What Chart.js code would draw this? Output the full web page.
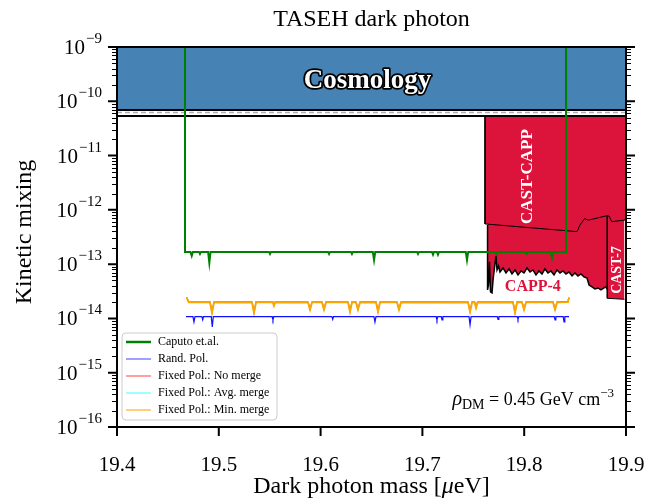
<!DOCTYPE html>
<html>
<head>
<meta charset="utf-8">
<script src="https://cdn.jsdelivr.net/npm/chart.js@4.4.1/dist/chart.umd.min.js"></script>
<style>
html, body { margin: 0; padding: 0; background: #fff; }
#grafico { display: block; }
</style>
</head>
<body>
<canvas id="grafico" width="648" height="498"></canvas>
<script>
const FONTE = "'Liberation Serif', 'DejaVu Serif', serif"
const CRIMSON = "#dc143c"

// eixos
const massMin = 19.4
const massMax = 19.9
const mixMin = 1e-16
const mixMax = 1e-9
const xTicks = [19.4, 19.5, 19.6, 19.7, 19.8, 19.9]
const yDecades = [-16, -15, -14, -13, -12, -11, -10, -9]

// faixas horizontais
const bandMass = [19.4, 19.9]
const cosmologyMix = [6.9e-11, 6.9e-11]
const gapLineMix = [6.2e-11, 6.2e-11]
const labLimitMix = [5.36e-11, 5.36e-11]
const labLimit = 5.36e-11

// Caputo et.al.
const caputoMass = [19.4668, 19.4668, 19.4722, 19.4734, 19.4746, 19.4805, 19.4815, 19.4825, 19.4895, 19.4907, 19.4919,
    19.5493, 19.5503, 19.5513, 19.6073, 19.6083, 19.6093, 19.6298, 19.6308, 19.6318, 19.6513, 19.6525, 19.6537,
    19.6947, 19.6957, 19.6967, 19.7094, 19.7104, 19.7114, 19.7143, 19.7153, 19.7163, 19.7426, 19.7438, 19.7450,
    19.7723, 19.7733, 19.7743, 19.8018, 19.8028, 19.8038, 19.8261, 19.8273, 19.8285, 19.8411, 19.8411]
const caputoMix = [1e-9, 1.68e-13, 1.68e-13, 1.42e-13, 1.68e-13, 1.68e-13, 1.54e-13, 1.68e-13, 1.68e-13, 1.05e-13, 1.68e-13,
    1.68e-13, 1.54e-13, 1.68e-13, 1.68e-13, 1.54e-13, 1.68e-13, 1.68e-13, 1.54e-13, 1.68e-13, 1.68e-13, 1.19e-13, 1.68e-13,
    1.68e-13, 1.54e-13, 1.68e-13, 1.68e-13, 1.50e-13, 1.68e-13, 1.68e-13, 1.50e-13, 1.68e-13, 1.68e-13, 1.19e-13, 1.68e-13,
    1.68e-13, 1.54e-13, 1.68e-13, 1.68e-13, 1.54e-13, 1.68e-13, 1.68e-13, 1.30e-13, 1.68e-13, 1.68e-13, 1e-9]

// Rand. Pol.
const randMass = [19.4678, 19.4746, 19.4756, 19.4766, 19.4834, 19.4842, 19.4850, 19.4926, 19.4936, 19.4946,
    19.5524, 19.5532, 19.5540, 19.6111, 19.6119, 19.6127, 19.6524, 19.6534, 19.6544, 19.7135, 19.7143, 19.7151,
    19.7185, 19.7193, 19.7201, 19.7458, 19.7468, 19.7478, 19.7735, 19.7743, 19.7751, 19.7931, 19.7939, 19.7947,
    19.8295, 19.8303, 19.8311, 19.8383, 19.8391, 19.8399, 19.8440]
const randMix = [1.08e-14, 1.08e-14, 8.6e-15, 1.08e-14, 1.08e-14, 9.4e-15, 1.08e-14, 1.08e-14, 7.0e-15, 1.08e-14,
    1.08e-14, 9.4e-15, 1.08e-14, 1.08e-14, 9.6e-15, 1.08e-14, 1.08e-14, 8.6e-15, 1.08e-14, 1.08e-14, 9.4e-15, 1.08e-14,
    1.08e-14, 9.4e-15, 1.08e-14, 1.08e-14, 7.6e-15, 1.08e-14, 1.08e-14, 9.6e-15, 1.08e-14, 1.08e-14, 9.6e-15, 1.08e-14,
    1.08e-14, 9.4e-15, 1.08e-14, 1.08e-14, 8.6e-15, 1.08e-14, 1.08e-14]

// Fixed Pol. (as tres variantes quase se sobrepoem)
const fixedMass = [19.4685, 19.4705, 19.4913, 19.4933, 19.4953, 19.5326, 19.5346, 19.5366, 19.5530, 19.5542, 19.5554,
    19.5876, 19.5896, 19.5916, 19.6013, 19.6033, 19.6053, 19.6269, 19.6289, 19.6309, 19.6347, 19.6367, 19.6387,
    19.6544, 19.6564, 19.6584, 19.6750, 19.6770, 19.6790, 19.7448, 19.7468, 19.7488, 19.7512, 19.7527, 19.7542,
    19.7890, 19.7910, 19.7930, 19.7978, 19.7998, 19.8018, 19.8283, 19.8303, 19.8323, 19.8430, 19.8440]
const noMergeMix = [2.45e-14, 2.03e-14,
    2.03e-14, 1.35e-14, 2.03e-14, 2.01e-14, 1.32e-14, 2.04e-14, 2.05e-14, 1.78e-14, 2.03e-14,
    2.02e-14, 1.50e-14, 2.03e-14, 2.04e-14, 1.50e-14, 2.03e-14, 2.03e-14, 1.38e-14, 2.05e-14,
    2.03e-14, 1.50e-14, 2.02e-14, 2.04e-14, 1.38e-14, 2.03e-14, 2.03e-14, 1.50e-14, 2.01e-14,
    2.03e-14, 1.38e-14, 2.03e-14, 2.04e-14, 1.62e-14, 2.03e-14, 2.02e-14, 1.32e-14, 2.04e-14,
    2.03e-14, 1.50e-14, 2.03e-14, 2.05e-14, 1.50e-14, 2.03e-14, 2.06e-14, 2.45e-14]
const avgMergeMix = [2.42e-14, 2.00e-14,
    2.00e-14, 1.30e-14, 2.00e-14, 1.98e-14, 1.29e-14, 2.01e-14, 2.02e-14, 1.74e-14, 2.00e-14,
    1.99e-14, 1.47e-14, 2.00e-14, 2.01e-14, 1.47e-14, 2.00e-14, 2.00e-14, 1.35e-14, 2.02e-14,
    2.00e-14, 1.47e-14, 1.99e-14, 2.01e-14, 1.35e-14, 2.00e-14, 2.00e-14, 1.47e-14, 1.98e-14,
    2.00e-14, 1.35e-14, 2.00e-14, 2.01e-14, 1.58e-14, 2.00e-14, 1.99e-14, 1.29e-14, 2.01e-14,
    2.00e-14, 1.47e-14, 2.00e-14, 2.02e-14, 1.47e-14, 2.00e-14, 2.03e-14, 2.42e-14]
const minMergeMix = [2.39e-14, 1.97e-14,
    1.97e-14, 1.26e-14, 1.97e-14, 1.95e-14, 1.26e-14, 1.97e-14, 1.99e-14, 1.70e-14, 1.97e-14,
    1.96e-14, 1.44e-14, 1.97e-14, 1.98e-14, 1.44e-14, 1.97e-14, 1.97e-14, 1.32e-14, 1.99e-14,
    1.97e-14, 1.44e-14, 1.96e-14, 1.98e-14, 1.32e-14, 1.97e-14, 1.97e-14, 1.44e-14, 1.95e-14,
    1.97e-14, 1.32e-14, 1.97e-14, 1.98e-14, 1.55e-14, 1.97e-14, 1.96e-14, 1.26e-14, 1.98e-14,
    1.97e-14, 1.44e-14, 1.97e-14, 1.99e-14, 1.44e-14, 1.97e-14, 2.00e-14, 2.39e-14]

// limites excluidos (borda inferior de cada regiao)
const castCappMass = [19.7615, 19.7615, 19.8519, 19.8548, 19.8597, 19.8617, 19.8637, 19.8816, 19.8836, 19.8860, 19.9]
const castCappMix = [5.36e-11, 5.50e-13, 3.97e-13, 5.27e-13, 7.00e-13, 6.52e-13, 6.52e-13, 7.82e-13, 7.60e-13, 6.06e-13, 6.52e-13]

const capp4Mass = [19.7640, 19.7640, 19.7649, 19.7659, 19.7669, 19.7684, 19.7694, 19.7708, 19.7723, 19.7733, 19.7748,
    19.7762, 19.7792, 19.7821, 19.7851, 19.7880, 19.7910, 19.7939, 19.7969, 19.7998, 19.8028, 19.8057, 19.8086,
    19.8116, 19.8145, 19.8175, 19.8204, 19.8234, 19.8263, 19.8293, 19.8322, 19.8352, 19.8381, 19.8411, 19.8440,
    19.8470, 19.8499, 19.8528, 19.8558, 19.8587, 19.8617, 19.8637, 19.8666, 19.8695, 19.8725, 19.8754, 19.8784,
    19.8800, 19.8816]
const capp4Mix = [5.27e-13, 3.35e-14, 4.14e-14, 1.10e-13, 3.08e-14, 2.95e-14, 5.12e-14, 8.51e-14, 1.42e-13, 7.82e-14, 9.27e-14,
    7.18e-14, 8.51e-14, 6.89e-14, 8.16e-14, 6.60e-14, 7.82e-14, 6.32e-14, 7.49e-14, 6.89e-14, 8.51e-14, 7.18e-14, 7.82e-14,
    6.32e-14, 7.49e-14, 6.60e-14, 8.16e-14, 6.89e-14, 7.49e-14, 6.32e-14, 7.82e-14, 6.89e-14, 7.49e-14, 6.60e-14, 7.18e-14,
    6.06e-14, 6.89e-14, 6.06e-14, 6.60e-14, 5.81e-14, 5.57e-14, 4.14e-14, 3.80e-14, 3.49e-14, 3.64e-14, 3.35e-14, 3.64e-14,
    3.80e-14, 3.49e-14]

const cast7Mass = [19.8816, 19.8816, 19.8900, 19.8985]
const cast7Mix = [7.82e-13, 2.35e-14, 2.30e-14, 2.25e-14]

// legenda
const legendLabels = ["Caputo et.al.", "Rand. Pol.", "Fixed Pol.: No merge", "Fixed Pol.: Avg. merge", "Fixed Pol.: Min. merge"]
const legendColors = ["#008000", "#7f7fff", "#ff7f7f", "#7fffff", "#ffc04d"]

function pontos(xs, ys){
    return xs.map((x, i) => ({ x, y: ys[i] }))
}

function serie(label, xs, ys, cor, largura, ordem, extra){
    return Object.assign({
        label,
        data: pontos(xs, ys),
        borderColor: cor,
        borderWidth: largura,
        pointRadius: 0,
        showLine: true,
        fill: false,
        tension: 0,
        order: ordem,
    }, extra || {})
}

function fonte(tam, peso, estilo){
    return `${estilo || ""} ${peso || ""} ${tam}px ${FONTE}`.trim()
}

// eixo y log com minor ticks, rotulos 10^n, bordas, legenda e anotacoes
const desenhoPlugin = {
    id: "desenho",
    afterDatasetsDraw(chart){
        const ctx = chart.ctx
        const a = chart.chartArea
        const x = chart.scales.x
        const y = chart.scales.y
        ctx.save()

        // Cosmology
        ctx.font = fonte(27, "bold")
        ctx.textAlign = "center"
        ctx.textBaseline = "middle"
        ctx.lineJoin = "round"
        ctx.lineWidth = 3.5
        ctx.strokeStyle = "#000"
        ctx.strokeText("Cosmology", (a.left + a.right) / 2 - 4, y.getPixelForValue(2.5e-10) + 1)
        ctx.fillStyle = "#fff"
        ctx.fillText("Cosmology", (a.left + a.right) / 2 - 4, y.getPixelForValue(2.5e-10) + 1)

        // CAST-CAPP
        ctx.save()
        ctx.translate(x.getPixelForValue(19.8035), y.getPixelForValue(4.1e-12))
        ctx.rotate(-Math.PI / 2)
        ctx.font = fonte(17, "bold")
        ctx.fillStyle = "#fff"
        ctx.fillText("CAST-CAPP", 0, 0)
        ctx.restore()

        // CAST-7
        ctx.save()
        ctx.translate(x.getPixelForValue(19.8912), y.getPixelForValue(7.8e-14))
        ctx.rotate(-Math.PI / 2)
        ctx.font = fonte(14, "bold")
        ctx.fillStyle = "#fff"
        ctx.fillText("CAST-7", 0, 0)
        ctx.restore()

        // CAPP-4
        ctx.font = fonte(16, "bold")
        ctx.fillStyle = CRIMSON
        ctx.fillText("CAPP-4", x.getPixelForValue(19.8085), y.getPixelForValue(3.8e-14))

        // rho_DM
        const partes = [
            { t: "\u03c1", f: fonte(20, "", "italic"), dy: 0 },
            { t: "DM", f: fonte(14), dy: 4 },
            { t: " = 0.45 GeV cm", f: fonte(18), dy: 0 },
            { t: "\u22123", f: fonte(13), dy: -8 },
        ]
        let total = 0
        partes.forEach(p => { ctx.font = p.f; p.w = ctx.measureText(p.t).width; total += p.w })
        let px = a.right - 12 - total
        ctx.textAlign = "left"
        ctx.textBaseline = "alphabetic"
        ctx.fillStyle = "#000"
        partes.forEach(p => {
            ctx.font = p.f
            ctx.fillText(p.t, px, 405 + p.dy)
            px += p.w
        })

        ctx.restore()
    },
    afterDraw(chart){
        const ctx = chart.ctx
        const a = chart.chartArea
        const x = chart.scales.x
        const y = chart.scales.y
        ctx.save()
        ctx.strokeStyle = "#000"
        ctx.fillStyle = "#000"

        // ticks do eixo y (dos dois lados)
        yDecades.forEach(d => {
            const py = y.getPixelForValue(Math.pow(10, d))
            ctx.lineWidth = 2
            ctx.beginPath()
            ctx.moveTo(a.left - 9, py); ctx.lineTo(a.left, py)
            ctx.moveTo(a.right, py); ctx.lineTo(a.right + 9, py)
            ctx.stroke()
            if(d < -9){
                ctx.lineWidth = 1
                ctx.beginPath()
                for(let m = 2; m <= 9; m++){
                    const pm = Math.round(y.getPixelForValue(m * Math.pow(10, d))) + 0.5
                    ctx.moveTo(a.left - 5, pm); ctx.lineTo(a.left, pm)
                    ctx.moveTo(a.right, pm); ctx.lineTo(a.right + 5, pm)
                }
                ctx.stroke()
            }

            // rotulo 10^d
            const exp = "\u2212" + Math.abs(d)
            ctx.textAlign = "right"
            ctx.textBaseline = "alphabetic"
            ctx.font = fonte(15)
            const we = ctx.measureText(exp).width
            ctx.fillText(exp, a.left - 15, py - 4)
            ctx.font = fonte(21)
            ctx.fillText("10", a.left - 16 - we, py + 7)
        })

        // ticks e rotulos do eixo x
        ctx.lineWidth = 2
        ctx.beginPath()
        xTicks.forEach(t => {
            const pxt = x.getPixelForValue(t)
            ctx.moveTo(pxt, a.bottom); ctx.lineTo(pxt, a.bottom + 9)
        })
        ctx.stroke()
        ctx.textAlign = "center"
        ctx.font = fonte(21)
        xTicks.forEach(t => {
            ctx.fillText(t.toFixed(1), x.getPixelForValue(t), 471)
        })

        // bordas
        ctx.lineWidth = 2
        ctx.strokeRect(a.left, a.top, a.right - a.left, a.bottom - a.top)

        // titulos
        ctx.textAlign = "center"
        ctx.textBaseline = "alphabetic"
        ctx.font = fonte(24)
        ctx.fillText("TASEH dark photon", (a.left + a.right) / 2, 26)

        const t1 = "Dark photon mass [", t2 = "\u03bc", t3 = "eV]"
        ctx.font = fonte(24)
        const w1 = ctx.measureText(t1).width, w3 = ctx.measureText(t3).width
        ctx.font = fonte(24, "", "italic")
        const w2 = ctx.measureText(t2).width
        let xl = (a.left + a.right) / 2 - (w1 + w2 + w3) / 2
        ctx.textAlign = "left"
        ctx.font = fonte(24)
        ctx.fillText(t1, xl, 493)
        ctx.font = fonte(24, "", "italic")
        ctx.fillText(t2, xl + w1, 493)
        ctx.font = fonte(24)
        ctx.fillText(t3, xl + w1 + w2, 493)

        ctx.save()
        ctx.translate(31, (a.top + a.bottom) / 2 - 5)
        ctx.rotate(-Math.PI / 2)
        ctx.textAlign = "center"
        ctx.font = fonte(24)
        ctx.fillText("Kinetic mixing", 0, 0)
        ctx.restore()

        // legenda
        const lx = a.left + 5, ly = 333, lw = 155, lh = 87
        ctx.beginPath()
        ctx.roundRect(lx, ly, lw, lh, 4)
        ctx.fillStyle = "rgba(255,255,255,0.85)"
        ctx.fill()
        ctx.strokeStyle = "#cccccc"
        ctx.lineWidth = 1
        ctx.stroke()
        ctx.textAlign = "left"
        ctx.textBaseline = "middle"
        ctx.font = fonte(12)
        legendLabels.forEach((lab, i) => {
            const yy = ly + 9 + i * 17
            ctx.strokeStyle = legendColors[i]
            ctx.lineWidth = i === 0 ? 2.5 : 1.5
            ctx.beginPath()
            ctx.moveTo(lx + 4, yy); ctx.lineTo(lx + 29, yy)
            ctx.stroke()
            ctx.fillStyle = "#000"
            ctx.fillText(lab, lx + 36, yy)
        })

        ctx.restore()
    }
}

function montarGrafico(){
    const ctx = document.getElementById("grafico")
    const datasets = [
        serie("Caputo et.al.", caputoMass, caputoMix, "#008000", 2, 0),
        serie("Rand. Pol.", randMass, randMix, "#1010ff", 1.2, 1),
        serie("Fixed Pol.: Min. merge", fixedMass, minMergeMix, "#ffa500", 1.8, 2),
        serie("Fixed Pol.: Avg. merge", fixedMass, avgMergeMix, "#40e0e0", 1.2, 3),
        serie("Fixed Pol.: No merge", fixedMass, noMergeMix, "#ff4040", 1.2, 4),
        serie("Cosmology", bandMass, cosmologyMix, "#000", 2, 5, { fill: "end", backgroundColor: "#4682b4" }),
        serie("gap", bandMass, gapLineMix, "#b0b0b0", 1.5, 6, { borderDash: [5, 3] }),
        serie("lab", bandMass, labLimitMix, "#000", 2, 7),
        serie("CAST-CAPP", castCappMass, castCappMix, "#000", 1, 8, { fill: { value: labLimit }, backgroundColor: CRIMSON }),
        serie("CAST-7", cast7Mass, cast7Mix, "#000", 1, 9, { fill: { value: labLimit }, backgroundColor: CRIMSON }),
        serie("CAPP-4", capp4Mass, capp4Mix, "#000", 1.5, 10, { fill: { value: labLimit }, backgroundColor: CRIMSON }),
    ]

    new Chart(ctx, {
        type: "scatter",
        data: { datasets },
        options: {
            responsive: false,
            animation: false,
            devicePixelRatio: 1,
            layout: { padding: { left: 0, right: 22, top: 47, bottom: 0 } },
            plugins: {
                legend: { display: false },
                tooltip: { enabled: false },
                title: { display: false },
            },
            scales: {
                x: {
                    type: "linear",
                    min: massMin,
                    max: massMax,
                    border: { display: false },
                    grid: { display: false, drawTicks: false },
                    ticks: { display: false },
                    afterFit(s){ s.height = 71 },
                },
                y: {
                    type: "logarithmic",
                    min: mixMin,
                    max: mixMax,
                    border: { display: false },
                    grid: { display: false, drawTicks: false },
                    ticks: { display: false },
                    afterFit(s){ s.width = 117 },
                },
            },
        },
        plugins: [desenhoPlugin],
    })
}

montarGrafico()
</script>
</body>
</html>
